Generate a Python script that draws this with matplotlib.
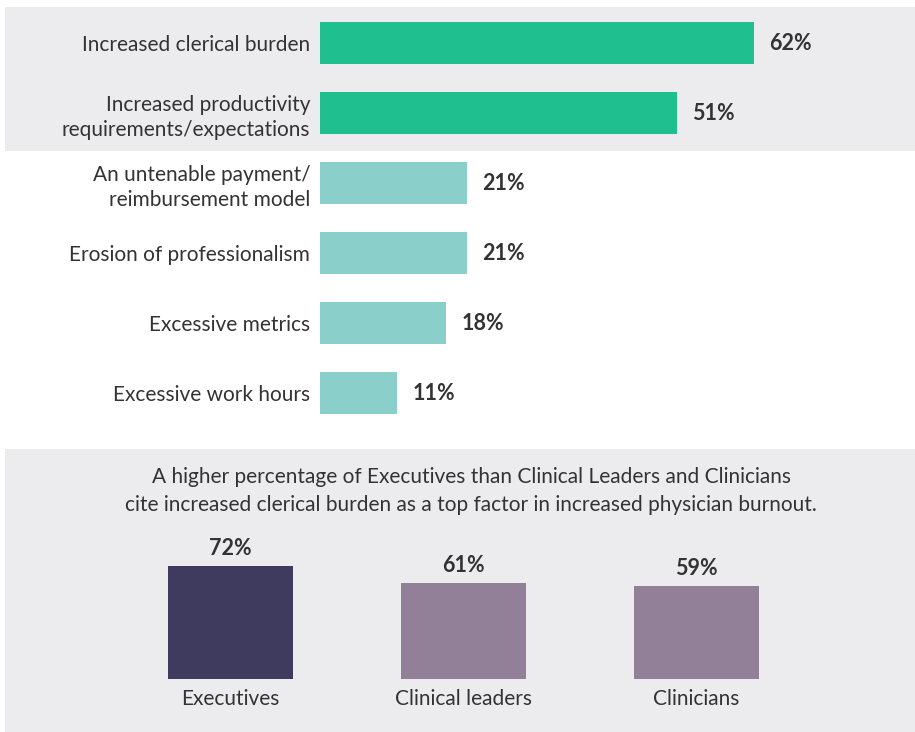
import matplotlib.pyplot as plt
from matplotlib.patches import Rectangle

factors = ["Increased clerical burden",
           "Increased productivity\nrequirements/expectations",
           "An untenable payment/\nreimbursement model",
           "Erosion of professionalism",
           "Excessive metrics",
           "Excessive work hours"]
factor_pct = [62, 51, 21, 21, 18, 11]
factor_colors = ["#1fbf8f", "#1fbf8f", "#8bcfcb", "#8bcfcb", "#8bcfcb", "#8bcfcb"]

groups = ["Executives", "Clinical leaders", "Clinicians"]
group_pct = [72, 61, 59]
group_colors = ["#3e3b5e", "#928098", "#928098"]

note = ("A higher percentage of Executives than Clinical Leaders and Clinicians\n"
        "cite increased clerical burden as a top factor in increased physician burnout.")

plt.rcParams['font.family'] = ['Lato', 'DejaVu Sans']
txt = "#333333"
grey = "#ececee"
fs = 15

W, H = 915, 732
fig = plt.figure(figsize=(W / 100, H / 100), dpi=100)
fig.patch.set_facecolor("white")


def box(x0, y0, x1, y1):
    # pixel box (top-left origin) -> figure fraction
    return [x0 / W, 1 - y1 / H, (x1 - x0) / W, (y1 - y0) / H]


# grey panels, behind the axes
for (x0, y0, x1, y1) in [(5, 7, 915, 151), (5, 449, 915, 732)]:
    l, b, w, h = box(x0, y0, x1, y1)
    fig.patches.append(Rectangle((l, b), w, h, transform=fig.transFigure,
                                 facecolor=grey, edgecolor="none", zorder=-5))

# top horizontal bars
ax = fig.add_axes(box(320, 8, 915, 428))
ax.patch.set_alpha(0)
pos = range(len(factors))
ax.barh(pos, factor_pct, height=0.6, color=factor_colors)
ax.set_xlim(0, 85)
ax.set_ylim(5.5, -0.5)
ax.set_yticks(list(pos))
ax.set_yticklabels(factors, fontsize=fs, color=txt, linespacing=1.3)
ax.tick_params(axis="y", length=0, pad=7)
ax.set_xticks([])
for s in ax.spines.values():
    s.set_visible(False)
for i, v in enumerate(factor_pct):
    ax.annotate(f"{v}%", (v, i), xytext=(11, 0), textcoords="offset points",
                va="center", ha="left", fontsize=fs + 0.5, fontweight="bold", color=txt)

# note text
fig.text(471 / W, 1 - 491 / H, note, ha="center", va="center", fontsize=fs,
         color=txt, linespacing=1.5)

# bottom vertical bars
ax2 = fig.add_axes(box(114, 553.4, 813, 679))
ax2.patch.set_alpha(0)
ax2.bar(range(len(groups)), group_pct, width=0.54, color=group_colors)
ax2.set_xlim(-0.5, 2.5)
ax2.set_ylim(0, 80)
ax2.set_yticks([])
ax2.set_xticks(range(len(groups)))
ax2.set_xticklabels(groups, fontsize=fs, color=txt)
ax2.tick_params(axis="x", length=0, pad=7)
for s in ax2.spines.values():
    s.set_visible(False)
for i, v in enumerate(group_pct):
    ax2.annotate(f"{v}%", (i, v), xytext=(0, 5), textcoords="offset points",
                 ha="center", va="bottom", fontsize=fs + 0.5, fontweight="bold", color=txt)

fig.savefig("out.png", dpi=100)
